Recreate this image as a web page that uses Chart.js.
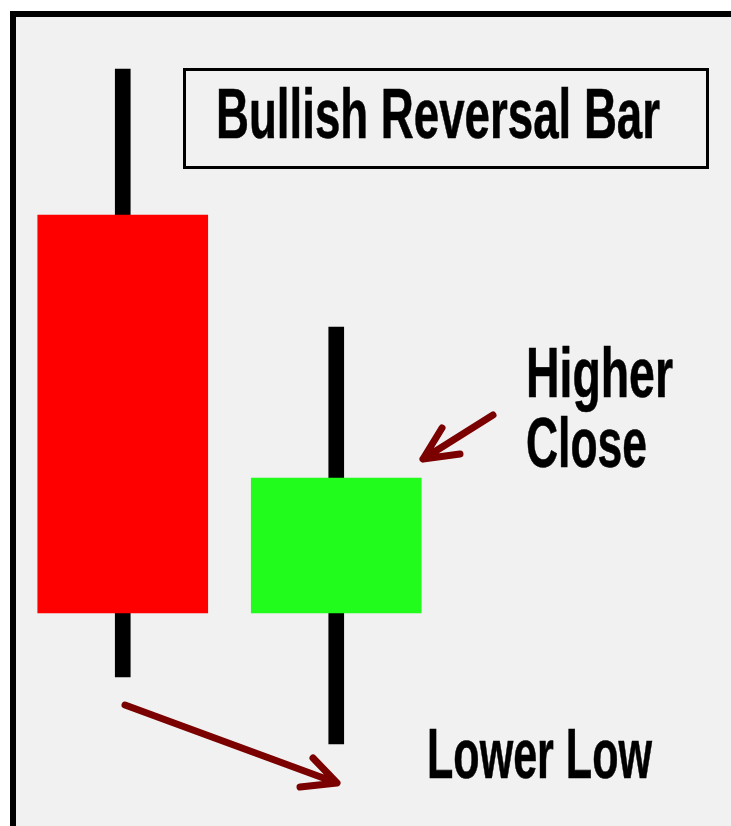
<!DOCTYPE html>
<html>
<head>
<meta charset="utf-8">
<script src="https://cdn.jsdelivr.net/npm/chart.js@4"></script>
<style>
  html, body { margin: 0; padding: 0; background: #ffffff; }
  body { width: 731px; height: 826px; position: relative; overflow: hidden; }
  #frame {
    position: absolute; left: 10px; top: 11px; right: 0; bottom: 0;
    border-left: 6px solid #000; border-top: 6px solid #000;
    background: #f1f1f1;
  }
  #wrap { position: relative; width: 715px; height: 809px; }
</style>
</head>
<body>
<div id="frame"><div id="wrap"><canvas id="myChart"></canvas></div></div>
<script>
// 캔들 데이터
var labels = ['Bar 1', 'Bar 2'];
var opens  = [61.1, 21.3];
var closes = [21.3, 34.8];
var highs  = [75.7, 49.9];
var lows   = [14.9, 8.2];

var title = 'Bullish Reversal Bar';
var closeNote = ['Higher', 'Close'];
var lowNote = 'Lower Low';

var bodies = labels.map(function (l, i) { return [opens[i], closes[i]]; });
var wicks  = labels.map(function (l, i) { return [lows[i], highs[i]]; });
var bodyColors = labels.map(function (l, i) { return closes[i] >= opens[i] ? '#22fc1c' : '#ff0000'; });

// 가로로 좁힌 굵은 글씨
function fitText(ctx, text, x, y, width) {
  ctx.save();
  ctx.font = 'bold 70px "Liberation Sans", Arial, sans-serif';
  ctx.textBaseline = 'alphabetic';
  ctx.fillStyle = '#000';
  ctx.strokeStyle = '#000';
  ctx.lineWidth = 0.6;
  var w = ctx.measureText(text).width;
  ctx.translate(x, y);
  ctx.scale(width / w, 1);
  ctx.fillText(text, 0, 0);
  ctx.strokeText(text, 0, 0);
  ctx.restore();
}

function arrow(ctx, x1, y1, x2, y2, a1, a2) {
  ctx.save();
  ctx.strokeStyle = '#7b0000';
  ctx.lineWidth = 7;
  ctx.lineCap = 'round';
  ctx.lineJoin = 'round';
  ctx.beginPath();
  ctx.moveTo(x1, y1);
  ctx.lineTo(x2, y2);
  ctx.moveTo(a1[0], a1[1]);
  ctx.lineTo(x2, y2);
  ctx.lineTo(a2[0], a2[1]);
  ctx.stroke();
  ctx.restore();
}

var notes = {
  id: 'notes',
  afterDatasetsDraw: function (chart) {
    var ctx = chart.ctx;
    // 제목 박스
    ctx.save();
    ctx.strokeStyle = '#000';
    ctx.lineWidth = 3;
    ctx.strokeRect(168.5, 52.5, 523, 98);
    ctx.restore();
    fitText(ctx, title, 200, 121, 444);
    fitText(ctx, closeNote[0], 510, 380, 147);
    fitText(ctx, closeNote[1], 510, 450, 121);
    fitText(ctx, lowNote, 411, 761, 225);

    arrow(ctx, 477, 398, 407, 442, [426, 411], [444, 437]);
    arrow(ctx, 109, 688, 321, 766, [297, 741], [284, 770]);
  }
};

new Chart(document.getElementById('myChart'), {
  type: 'bar',
  data: {
    labels: labels,
    datasets: [
      {
        label: 'Body',
        data: bodies,
        backgroundColor: bodyColors,
        borderWidth: 0,
        barThickness: 170,
        grouped: false
      },
      {
        label: 'Wick',
        data: wicks,
        backgroundColor: '#000000',
        borderWidth: 0,
        barThickness: 15,
        grouped: false
      }
    ]
  },
  options: {
    responsive: true,
    maintainAspectRatio: false,
    animation: false,
    layout: { padding: { left: 0, right: 288, top: 0, bottom: 0 } },
    plugins: {
      legend: { display: false },
      tooltip: { enabled: false }
    },
    scales: {
      x: { display: false },
      y: { display: false, min: 0, max: 80.9 }
    }
  },
  plugins: [notes]
});
</script>
</body>
</html>
